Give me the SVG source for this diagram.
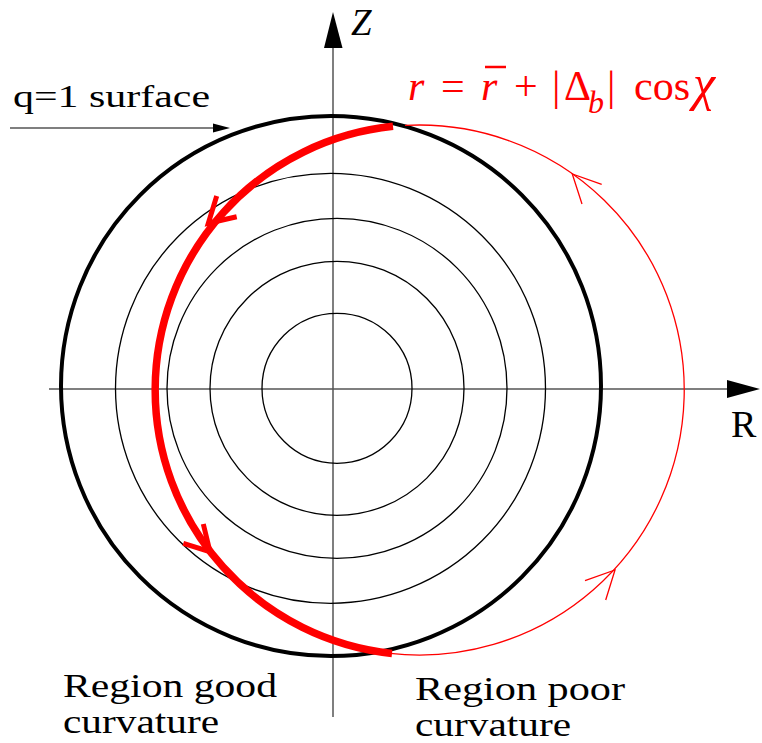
<svg xmlns="http://www.w3.org/2000/svg" width="762" height="743" viewBox="0 0 762 743">
<style>
text{font-family:"Liberation Serif","Times New Roman","DejaVu Serif",serif}
.fl{fill:none;stroke:#000;stroke-width:1.3}
.rthin{fill:none;stroke:#ff0000;stroke-width:1.3}
.rthick{fill:none;stroke:#ff0000;stroke-width:7.5}
.rarr{fill:none;stroke:#ff0000;stroke-width:5}
</style>
<rect width="762" height="743" fill="#fff"/>
<g id="axes">
  <line x1="49" y1="389" x2="728" y2="389" stroke="#000" stroke-width="1.2"/>
  <polygon points="760,389 727,380 727,398" fill="#000"/>
  <line x1="333" y1="46" x2="333" y2="717" stroke="#555" stroke-width="1.5"/>
  <polygon points="333,12 324,48 342.5,48" fill="#000"/>
  <text font-family="Liberation Serif, serif" x="351" y="35" font-size="37" font-style="italic" fill="#000">Z</text>
  <text font-family="Liberation Serif, serif" x="731" y="437" font-size="38" fill="#000">R</text>
</g>
<g id="flux-surfaces">
  <circle class="fl" cx="337" cy="388.3" r="75"/>
  <circle class="fl" cx="337" cy="388.3" r="127"/>
  <circle class="fl" cx="337" cy="388.3" r="170"/>
  <circle class="fl" cx="330.5" cy="388.3" r="215"/>
</g>
<g id="q1-surface">
  <circle cx="331" cy="386" r="270" fill="none" stroke="#000" stroke-width="4"/>
  <text font-family="Liberation Serif, serif" x="13" y="107" font-size="31" fill="#000" textLength="197" lengthAdjust="spacingAndGlyphs">q=1 surface</text>
  <line x1="10" y1="128" x2="214" y2="128" stroke="#000" stroke-width="1.2"/>
  <polygon points="230,128 213,123.5 213,132.5" fill="#000"/>
</g>
<g id="orbit">
  <path class="rthin" d="M 390 653.4 A 265 265 0 1 0 405 125.4"/>
  <path class="rthick" d="M 393 126.3 A 265 265 0 0 0 392 653.4"/>
  <polyline class="rthin" points="601.7,184.3 572.3,174 582,204"/>
  <polyline class="rthin" points="585,580.7 615,570 605.7,600"/>
  <polyline class="rarr" points="216.7,196 208.3,223.3 236.7,216.7"/>
  <polyline class="rarr" points="203.3,524 210,551.7 183.3,543.3"/>
</g>
<g id="formula">
  <text font-family="Liberation Serif, serif" fill="#ff0000" y="100" font-size="42">
    <tspan x="408" font-style="italic">r</tspan>
    <tspan x="441">=</tspan>
    <tspan x="481" font-style="italic">r</tspan>
    <tspan x="514">+</tspan>
    <tspan x="552">|</tspan>
    <tspan x="564">Δ</tspan>
    <tspan x="588" y="113" font-size="32" font-style="italic">b</tspan>
    <tspan x="607" y="100">|</tspan>
    <tspan x="634">cos</tspan>
    <tspan x="693" font-size="50" font-style="italic">χ</tspan>
  </text>
  <line x1="485" y1="67" x2="506" y2="67" stroke="#ff0000" stroke-width="2.5"/>
</g>
<g id="labels">
  <text font-family="Liberation Serif, serif" fill="#000" x="63" y="697" font-size="33" textLength="214" lengthAdjust="spacingAndGlyphs">Region good</text>
  <text font-family="Liberation Serif, serif" fill="#000" x="63" y="733" font-size="33" textLength="156" lengthAdjust="spacingAndGlyphs">curvature</text>
  <text font-family="Liberation Serif, serif" fill="#000" x="415" y="700" font-size="33" textLength="210" lengthAdjust="spacingAndGlyphs">Region poor</text>
  <text font-family="Liberation Serif, serif" fill="#000" x="415" y="736" font-size="33" textLength="156" lengthAdjust="spacingAndGlyphs">curvature</text>
</g>
</svg>
